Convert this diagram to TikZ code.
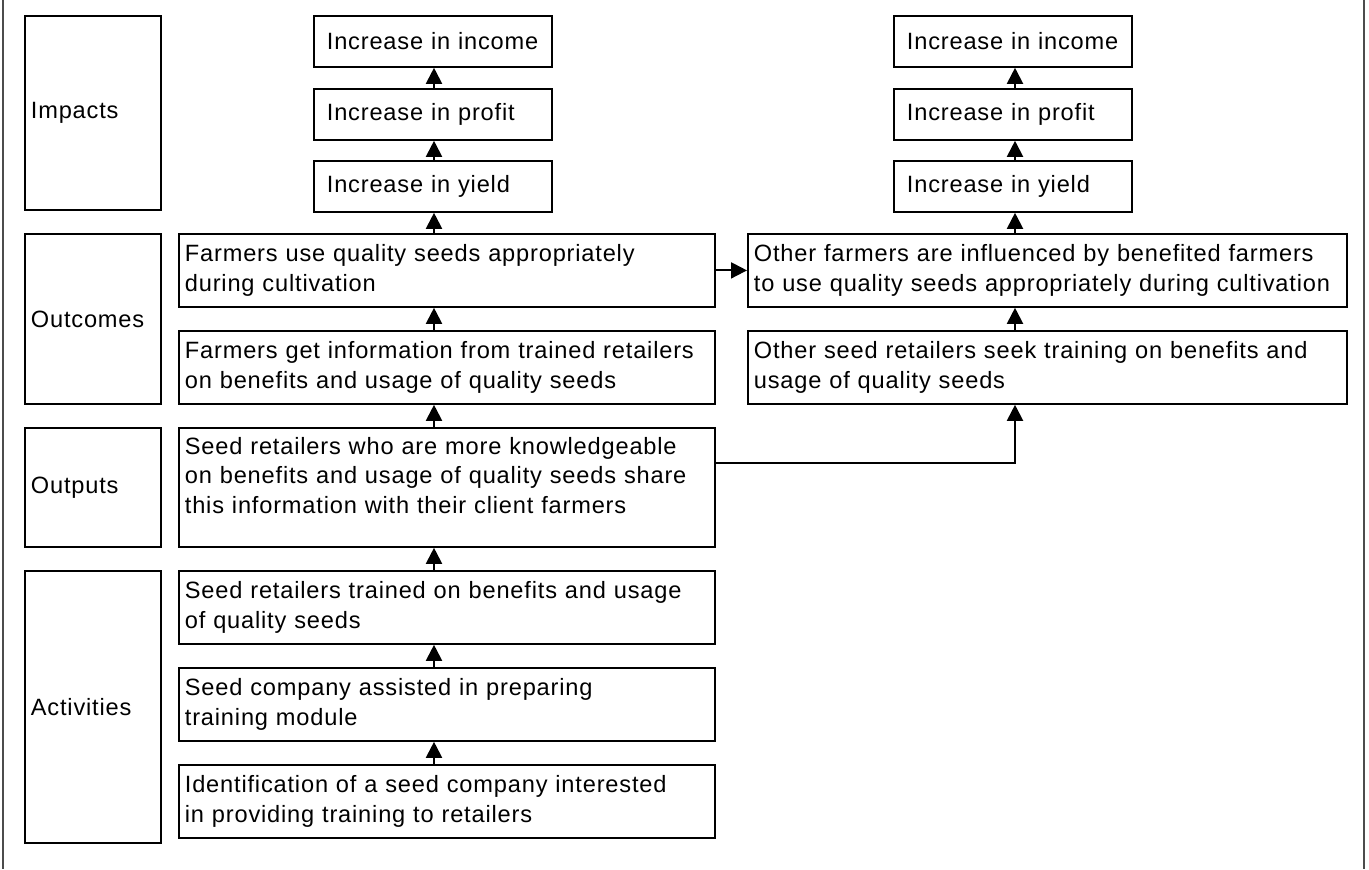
\documentclass[tikz,border=0pt]{standalone}
\usepackage{fontspec}
\setmainfont[LetterSpace=3.5]{Liberation Sans}
\usepackage{tikz}
\usetikzlibrary{arrows.meta,calc}

\begin{document}
\begin{tikzpicture}[
    x=0.5pt, y=-0.5pt,
    font=\fontsize{11.8pt}{14.75pt}\selectfont,
    box/.style={draw, line width=0.9pt, anchor=north west, align=left, inner xsep=3pt, inner ysep=0pt},
    stagebox/.style={box, text width=62pt},
    midbox/.style={box, text width=262pt, minimum height=36.5pt},
    sidebox/.style={box, text width=293.5pt, minimum height=36.5pt},
    impbox/.style={box, inner xsep=6.5pt, text width=106pt, minimum height=25.5pt},
    arrow/.style={-{Triangle[length=8pt, width=8pt]}, line width=1pt}
]
\useasboundingbox (0,0) rectangle (1369,869);

% outer frame
\draw[line width=0.8pt, black!70] (3,0) -- (3,869);
\draw[line width=0.8pt, black!70] (1364,0) -- (1364,869);

% stages
\node[stagebox, minimum height=97pt] (impacts) at (24,15) {Impacts};
\node[stagebox, minimum height=85pt] (outcomes) at (24,233) {Outcomes};
\node[stagebox, minimum height=59.5pt] (outputs) at (24,427) {Outputs};
\node[stagebox, minimum height=136pt] (activities) at (24,570) {Activities};

% impacts
\node[impbox] (incomeL) at (313,15) {Increase in income};
\node[impbox] (profitL) at (313,88) {Increase in profit};
\node[impbox] (yieldL) at (313,160) {Increase in yield};
\node[impbox] (incomeR) at (893,15) {Increase in income};
\node[impbox] (profitR) at (893,88) {Increase in profit};
\node[impbox] (yieldR) at (893,160) {Increase in yield};

% main chain
\node[midbox] (use) at (178,233) {Farmers use quality seeds appropriately\\during cultivation};
\node[midbox] (info) at (178,330) {Farmers get information from trained retailers\\on benefits and usage of quality seeds};
\node[midbox, minimum height=59.5pt] (share) at (178,427) {Seed retailers who are more knowledgeable\\on benefits and usage of quality seeds share\\this information with their client farmers\\[-7pt]\strut};
\node[midbox] (trained) at (178,570) {Seed retailers trained on benefits and usage\\of quality seeds};
\node[midbox] (module) at (178,667) {Seed company assisted in preparing\\training module};
\node[midbox] (ident) at (178,764) {Identification of a seed company interested\\in providing training to retailers};

% spill-over
\node[sidebox] (othfarm) at (747,233) {Other farmers are influenced by benefited farmers\\to use quality seeds appropriately during cultivation};
\node[sidebox] (othret) at (747,330) {Other seed retailers seek training on benefits and\\usage of quality seeds};

\coordinate (axisL) at (434,0);
\coordinate (axisR) at (1015,463);

\draw[arrow] (ident.north -| axisL) -- (module.south -| axisL);
\draw[arrow] (module.north -| axisL) -- (trained.south -| axisL);
\draw[arrow] (trained.north -| axisL) -- (share.south -| axisL);
\draw[arrow] (share.north -| axisL) -- (info.south -| axisL);
\draw[arrow] (info.north -| axisL) -- (use.south -| axisL);
\draw[arrow] (use.north -| axisL) -- (yieldL.south -| axisL);
\draw[arrow] (yieldL.north -| axisL) -- (profitL.south -| axisL);
\draw[arrow] (profitL.north -| axisL) -- (incomeL.south -| axisL);

\draw[arrow] (use.east) -- (othfarm.west);
\draw[arrow] (share.east |- axisR) -- (axisR) -- (othret.south -| axisR);
\draw[arrow] (othret.north -| axisR) -- (othfarm.south -| axisR);
\draw[arrow] (othfarm.north -| axisR) -- (yieldR.south -| axisR);
\draw[arrow] (yieldR.north -| axisR) -- (profitR.south -| axisR);
\draw[arrow] (profitR.north -| axisR) -- (incomeR.south -| axisR);

\end{tikzpicture}
\end{document}
